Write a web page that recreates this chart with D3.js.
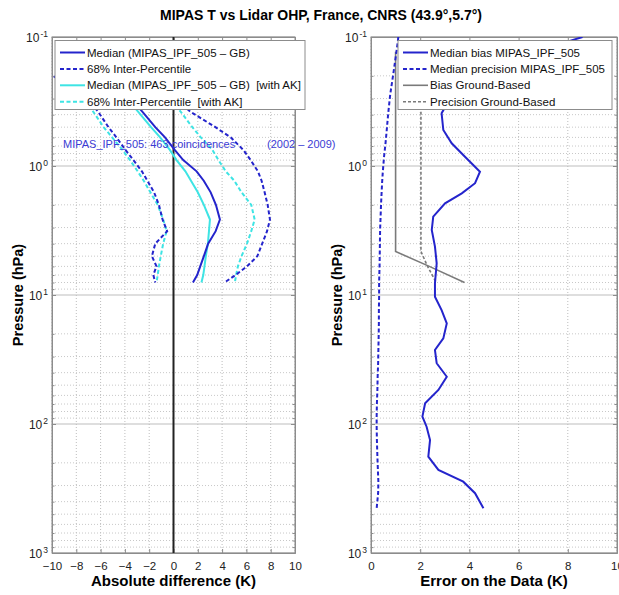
<!DOCTYPE html>
<html>
<head>
<meta charset="utf-8">
<script src="https://cdn.jsdelivr.net/npm/d3@7"></script>
<style>
body { margin: 0; background: #fff; }
text { font-family: "Liberation Sans", Arial, sans-serif; }
</style>
</head>
<body>
<div id="chart"></div>
<script>
const width = 619;
const height = 595;

// ********* DATA *********
// left panel: pressure grid (hPa) and profiles (K)
const pLeft = [0.19, 0.25, 0.31, 0.38, 0.5, 0.6, 0.75, 0.9, 1.1, 1.3, 1.6, 2.0, 2.6, 3.2, 4.0, 5.0, 6.0, 7.0, 8.0];
const medGB = [null, null, -3.4, -2.55, -1.5, -0.7, 0.1, 0.8, 1.9, 2.49, 3.06, 3.49, 3.82, 3.47, 2.85, 2.5, 2.2, 1.95, 1.6];
const loGB  = [-10.3, -8.3, -7.0, -6.2, -5.35, -4.7, -3.95, -3.3, -2.6, -2.15, -1.6, -1.2, -0.9, -0.52, -1.5, -1.78, -1.4, -1.66, -1.5];
const hiGB  = [null, null, 0.3, 1.4, 3.45, 4.7, 5.75, 6.35, 6.95, 7.25, 7.5, 7.75, 7.94, 7.7, 7.3, 6.9, 6.05, 5.1, 4.2];
const medAK = [null, null, -3.7, -2.9, -1.85, -1.1, -0.3, 0.25, 0.98, 1.44, 2.0, 2.5, 3.0, 2.92, 2.83, 2.66, 2.55, 2.45, 2.3];
const loAK  = [null, null, -7.3, -6.6, -5.75, -5.05, -4.2, -3.58, -2.95, -2.45, -1.9, -1.3, -0.85, -0.57, -0.85, -1.05, -1.2, -1.3, -1.4];
const hiAK  = [null, null, -0.2, 0.6, 1.55, 2.25, 3.2, 3.7, 4.3, 5.0, 5.6, 6.4, 6.68, 6.4, 6.05, 5.6, 5.3, 5.15, 5.05];

// right panel: pressure grid (hPa) and errors (K)
const pRight = [0.1, 0.109, 0.18, 0.28, 0.39, 0.526, 0.667, 0.848, 1.107, 1.36, 1.628, 1.946, 2.47, 3.13, 4.22, 5.68, 8.1,
  10.3, 13.1, 16.6, 21.7, 26.7, 33.8, 43.0, 54.5, 69.1, 87.7, 105, 133, 179, 227, 280, 344, 450];
const biasSat = [8.6, 7.95, 5.0, 3.3, 2.87, 2.94, 3.28, 3.82, 4.43, 4.23, 3.69, 3.01, 2.53, 2.47, 2.6, 2.67, 2.6,
  2.6, 2.87, 3.08, 2.94, 2.6, 2.67, 3.08, 2.74, 2.2, 2.09, 2.26, 2.4, 2.33, 2.74, 3.75, 4.23, 4.57];
const precSat = [1.11, 1.09, 0.93, 0.78, 0.70, 0.64, 0.59, 0.53, 0.48, 0.45, 0.43, 0.41, 0.39, 0.37, 0.36, 0.35, 0.33,
  0.33, 0.32, 0.32, 0.31, 0.30, 0.29, 0.27, 0.26, 0.24, 0.23, 0.23, 0.24, 0.26, 0.28, 0.30, 0.29, 0.23];

// ground-based errors
const pGB = [0.13, 4.6, 6.0, 8.0];
const biasGB = [1.0, 1.0, 2.37, 3.8];
const precGB = [2.03, 2.03, 2.3, 2.65];

// ticks
const xTicksLeft = [-10, -8, -6, -4, -2, 0, 2, 4, 6, 8, 10];
const xTicksRight = [0, 2, 4, 6, 8, 10];
const pDecades = [0.1, 1, 10, 100, 1000];
const pExponents = ["-1", "0", "1", "2", "3"];

const legendLeft = ["Median (MIPAS_IPF_505 \u2013 GB)", "68% Inter-Percentile",
  "Median (MIPAS_IPF_505 \u2013 GB)\u00a0\u00a0[with AK]", "68% Inter-Percentile\u00a0\u00a0[with AK]"];
const legendRight = ["Median bias MIPAS_IPF_505", "Median precision MIPAS_IPF_505",
  "Bias Ground-Based", "Precision Ground-Based"];

const blue = "#2424cc";
const cyan = "#3ee4e4";
const grey = "#7a7a7a";

// ********* SVG *********
var svg = d3.select("#chart").append("svg")
  .attr("width", width)
  .attr("height", height);

var top_y = 37, bottom_y = 553;
var y_scale = d3.scaleLog().domain([0.1, 1000]).range([top_y, bottom_y]);

// minor log values for grid + ticks
var minorP = [];
[0.1, 1, 10, 100].forEach(function(d){
  for (var k = 2; k <= 9; k++) minorP.push(d * k);
});

function drawPanel(x0, x1, xdom, xticks, xlabel, id){
  var x_scale = d3.scaleLinear().domain(xdom).range([x0, x1]);
  var g = svg.append("g").attr("id", id);

  g.append("clipPath").attr("id", "clip-" + id)
    .append("rect").attr("x", x0).attr("y", top_y).attr("width", x1 - x0).attr("height", bottom_y - top_y);

  // grid
  var grid = g.append("g").attr("class", "grid");
  grid.selectAll(".gx").data(xticks).enter().append("line")
    .attr("x1", d => x_scale(d)).attr("x2", d => x_scale(d))
    .attr("y1", top_y).attr("y2", bottom_y)
    .attr("stroke", "#bdbdbd").attr("stroke-dasharray", "1,2");
  grid.selectAll(".gm").data(minorP).enter().append("line")
    .attr("x1", x0).attr("x2", x1)
    .attr("y1", d => y_scale(d)).attr("y2", d => y_scale(d))
    .attr("stroke", "#c8c8c8").attr("stroke-dasharray", "1,2");
  grid.selectAll(".gd").data(pDecades).enter().append("line")
    .attr("x1", x0).attr("x2", x1)
    .attr("y1", d => y_scale(d)).attr("y2", d => y_scale(d))
    .attr("stroke", "#bdbdbd");

  // axes
  var bottom = g.append("g").attr("transform", `translate(0,${bottom_y})`)
    .call(d3.axisBottom(x_scale).tickValues(xticks).tickSizeInner(-4).tickSizeOuter(0).tickPadding(9));
  g.append("g").attr("transform", `translate(0,${top_y})`)
    .call(d3.axisTop(x_scale).tickValues(xticks).tickSizeInner(-4).tickSizeOuter(0).tickFormat(""));
  var left = g.append("g").attr("transform", `translate(${x0},0)`)
    .call(d3.axisLeft(y_scale).tickValues(pDecades).tickSizeInner(-4).tickSizeOuter(0).tickPadding(4).tickFormat(""));
  g.append("g").attr("transform", `translate(${x1},0)`)
    .call(d3.axisRight(y_scale).tickValues(pDecades).tickSizeInner(-4).tickSizeOuter(0).tickFormat(""));
  g.append("g").attr("transform", `translate(${x0},0)`)
    .call(d3.axisLeft(y_scale).tickValues(minorP).tickSizeInner(-2.5).tickSizeOuter(0).tickFormat(""));
  g.append("g").attr("transform", `translate(${x1},0)`)
    .call(d3.axisRight(y_scale).tickValues(minorP).tickSizeInner(-2.5).tickSizeOuter(0).tickFormat(""));

  g.selectAll(".domain").attr("stroke", "#8c8c8c");
  g.selectAll(".tick line").attr("stroke", "#8c8c8c");
  bottom.selectAll("text").style("font-size", "11.5px").attr("fill", "#222");

  // y tick labels: 10 with exponent
  left.selectAll(".tick").append("text")
    .attr("x", -4).attr("dy", "0.36em")
    .attr("text-anchor", "end")
    .attr("fill", "#222")
    .style("font-size", "12px")
    .each(function(d, i){
      var t = d3.select(this);
      t.append("tspan").text("10");
      t.append("tspan").attr("dx", "1").attr("dy", "-0.6em").style("font-size", "8.5px").text(pExponents[i]);
    });

  g.append("rect").attr("x", x0).attr("y", top_y).attr("width", x1 - x0).attr("height", bottom_y - top_y)
    .attr("fill", "none").attr("stroke", "#8c8c8c");

  // labels
  g.append("text")
    .attr("x", (x0 + x1) / 2).attr("y", 586)
    .attr("text-anchor", "middle")
    .style("font-size", "15px").style("font-weight", "bold")
    .text(xlabel);
  g.append("text")
    .attr("transform", `translate(${x0 - 29},${(top_y + bottom_y) / 2}) rotate(-90)`)
    .attr("text-anchor", "middle")
    .style("font-size", "14.5px").style("font-weight", "bold")
    .text("Pressure (hPa)");

  return {g: g, x: x_scale, plot: g.append("g").attr("clip-path", `url(#clip-${id})`)};
}

function profile(ps, vals, x_scale){
  var pts = ps.map(function(p, i){ return [vals[i], p]; });
  var line = d3.line()
    .defined(d => d[0] != null)
    .x(d => x_scale(d[0]))
    .y(d => y_scale(d[1]));
  return line(pts);
}

// ********* LEFT PANEL *********
var L = drawPanel(52, 295, [-10, 10], xTicksLeft, "Absolute difference (K)", "left");

L.plot.append("line")
  .attr("x1", L.x(0)).attr("x2", L.x(0)).attr("y1", top_y).attr("y2", bottom_y)
  .attr("stroke", "#222").attr("stroke-width", 2);

var leftSeries = [
  {v: medAK, c: cyan, dash: null},
  {v: loAK, c: cyan, dash: "4,2.5"},
  {v: hiAK, c: cyan, dash: "4,2.5"},
  {v: medGB, c: blue, dash: null},
  {v: loGB, c: blue, dash: "4,2.5"},
  {v: hiGB, c: blue, dash: "4,2.5"}
];
leftSeries.forEach(function(s){
  L.plot.append("path")
    .attr("d", profile(pLeft, s.v, L.x))
    .attr("fill", "none")
    .attr("stroke", s.c)
    .attr("stroke-width", 2)
    .attr("stroke-dasharray", s.dash);
});

svg.append("text").attr("x", 63).attr("y", 148)
  .attr("fill", "#3b3bd4").style("font-size", "11px")
  .text("MIPAS_IPF_505: 463 coincidences");
svg.append("text").attr("x", 267).attr("y", 148)
  .attr("fill", "#3b3bd4").style("font-size", "11px")
  .text("(2002 \u2013 2009)");

// ********* RIGHT PANEL *********
var R = drawPanel(371, 617, [0, 10], xTicksRight, "Error on the Data (K)", "right");

var rightSeries = [
  {p: pGB, v: biasGB, c: grey, dash: null, w: 1.6},
  {p: pGB, v: precGB, c: grey, dash: "3,2", w: 1.6},
  {p: pRight, v: precSat, c: blue, dash: "4,2.5", w: 2},
  {p: pRight, v: biasSat, c: blue, dash: null, w: 2}
];
rightSeries.forEach(function(s){
  R.plot.append("path")
    .attr("d", profile(s.p, s.v, R.x))
    .attr("fill", "none")
    .attr("stroke", s.c)
    .attr("stroke-width", s.w)
    .attr("stroke-dasharray", s.dash);
});

// ********* LEGENDS *********
function drawLegend(x, w, labels, styles){
  var lg = svg.append("g").attr("transform", `translate(${x},40.5)`);
  lg.append("rect").attr("width", w).attr("height", 69)
    .attr("fill", "#fff").attr("stroke", "#8c8c8c");
  var entry = lg.selectAll(".entry").data(labels).enter().append("g")
    .attr("transform", (d, i) => `translate(0,${12 + i * 16.4})`);
  entry.append("line")
    .attr("x1", 5).attr("x2", 30).attr("y1", 0).attr("y2", 0)
    .attr("stroke", (d, i) => styles[i].c)
    .attr("stroke-width", (d, i) => styles[i].w)
    .attr("stroke-dasharray", (d, i) => styles[i].dash);
  entry.append("text")
    .attr("x", 32).attr("dy", "0.36em")
    .style("font-size", "11.5px").attr("fill", "#111")
    .text(d => d);
}
drawLegend(55, 250, legendLeft, [
  {c: blue, w: 2, dash: null}, {c: blue, w: 2, dash: "4,2.5"},
  {c: cyan, w: 2, dash: null}, {c: cyan, w: 2, dash: "4,2.5"}
]);
drawLegend(398, 214, legendRight, [
  {c: blue, w: 2, dash: null}, {c: blue, w: 2, dash: "4,2.5"},
  {c: grey, w: 1.6, dash: null}, {c: grey, w: 1.6, dash: "3,2"}
]);

// ********* TITLE *********
svg.append("text")
  .attr("x", 321).attr("y", 20)
  .attr("text-anchor", "middle")
  .style("font-size", "14px").style("font-weight", "bold")
  .text("MIPAS T vs Lidar OHP, France, CNRS (43.9\u00b0,5.7\u00b0)");
</script>
</body>
</html>
